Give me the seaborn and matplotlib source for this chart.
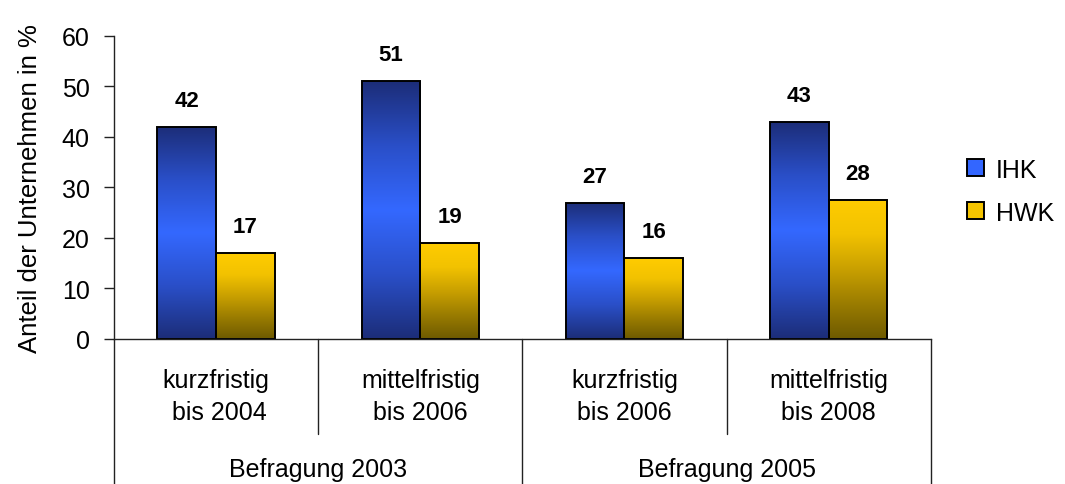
import numpy as np
import pandas as pd
import matplotlib
matplotlib.use("Agg")
import matplotlib.pyplot as plt
import seaborn as sns
from matplotlib.colors import LinearSegmentedColormap
from matplotlib.patches import Patch

# data
kategorien = ["kurzfristig\n bis 2004", "mittelfristig\nbis 2006",
              "kurzfristig\nbis 2006", "mittelfristig\nbis 2008"]
befragungen = ["Befragung 2003", "Befragung 2005"]
kammern = ["IHK", "HWK"]
ihk = [42, 51, 27, 43]
hwk = [17, 19, 16, 27.6]

df = pd.DataFrame({
    "kategorie": kategorien * 2,
    "kammer": ["IHK"] * 4 + ["HWK"] * 4,
    "anteil": ihk + hwk,
})

sns.set_style("white")
plt.rcParams["font.family"] = ["Liberation Sans", "DejaVu Sans"]
for key in ["text.color", "axes.labelcolor", "xtick.color", "ytick.color"]:
    plt.rcParams[key] = "black"

fig = plt.figure(figsize=(10.65, 4.85), dpi=100)
ax = fig.add_axes([0.107, 0.299, 0.767, 0.625])

farben = {"IHK": "#3366ff", "HWK": "#f5c400"}
sns.barplot(data=df, x="kategorie", y="anteil", hue="kammer", palette=farben,
            width=0.575, edgecolor="black", linewidth=1.4, legend=False, ax=ax)

verlauf = {
    "IHK": LinearSegmentedColormap.from_list(
        "ihk", ["#1c2d78", "#2a4fc8", "#3468ff", "#2a4fc8", "#1c2d78"]),
    "HWK": LinearSegmentedColormap.from_list(
        "hwk", ["#ffcc00", "#f2c200", "#c9a000", "#9a7c00", "#6e5a00"]),
}
grad = np.linspace(0, 1, 256).reshape(-1, 1)
for cont, name in zip(ax.containers, kammern):
    for bar in cont:
        x0, y0 = bar.get_x(), bar.get_y()
        w, h = bar.get_width(), bar.get_height()
        im = ax.imshow(grad, cmap=verlauf[name], aspect="auto",
                       extent=(x0, x0 + w, y0, y0 + h), origin="upper",
                       zorder=1.5)
        im.set_clip_path(bar)
        bar.set_facecolor("none")
        bar.set_zorder(2)
    ax.bar_label(cont, labels=[f"{v:.0f}" for v in cont.datavalues],
                 padding=11.5, fontsize=16, fontweight="bold")

ax.set_xlim(-0.5, 3.5)
ax.set_ylim(0, 60)
ax.set_yticks(range(0, 61, 10))
ax.tick_params(axis="y", length=7.5, width=1, color="#222222", labelsize=18, pad=10, left=True)
ax.tick_params(axis="x", length=0, labelsize=18, pad=21)
for lab in ax.get_xticklabels():
    lab.set_linespacing(1.4)
ax.set_xlabel("")
ax.set_ylabel("Anteil der Unternehmen in %", fontsize=18.5, labelpad=14)

for s in ["top", "right"]:
    ax.spines[s].set_visible(False)
for s in ["left", "bottom"]:
    ax.spines[s].set_color("#222222")
    ax.spines[s].set_linewidth(1)

# multi-level category axis
trans = ax.get_xaxis_transform()
for xb in [0.5, 2.5]:
    ax.plot([xb, xb], [0, -0.314], transform=trans, color="#222222", lw=1, clip_on=False)
for xb in [-0.5, 1.5, 3.5]:
    ax.plot([xb, xb], [0, -0.48], transform=trans, color="#222222", lw=1, clip_on=False)
for xc, txt in zip([0.5, 2.5], befragungen):
    ax.text(xc, -0.43, txt, transform=trans, ha="center", va="center", fontsize=18)

handles = [Patch(facecolor=farben[k], edgecolor="black", linewidth=1.4) for k in kammern]
fig.legend(handles, kammern, loc="center left", bbox_to_anchor=(0.899, 0.604),
           frameon=False, fontsize=18, handlelength=0.68, handleheight=0.68,
           handletextpad=0.45, labelspacing=0.76, borderaxespad=0)

fig.savefig("out.png", dpi=100)
